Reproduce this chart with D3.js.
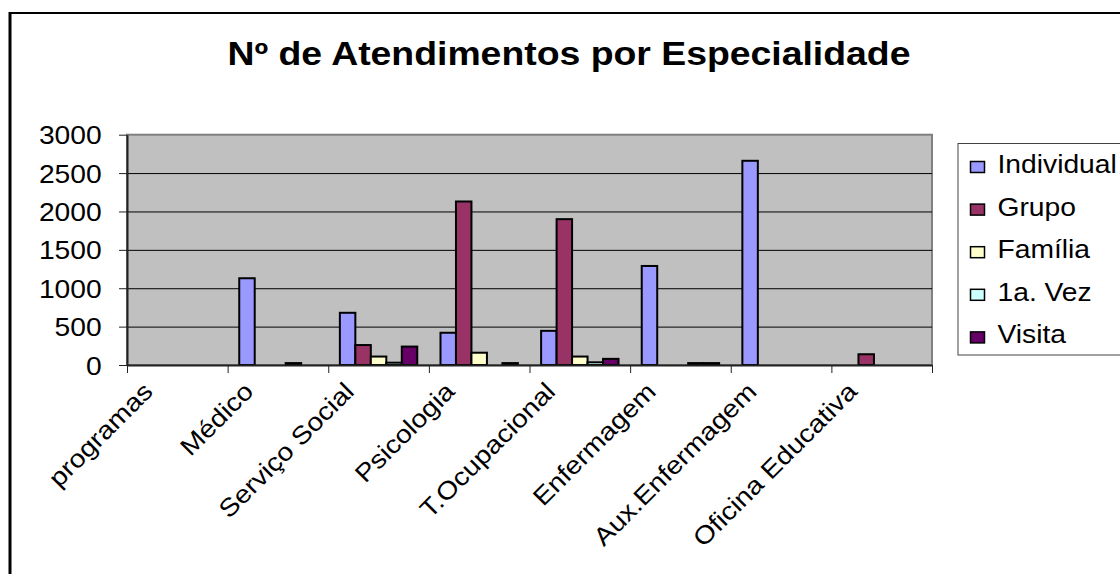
<!DOCTYPE html>
<html>
<head>
<meta charset="utf-8">
<script src="https://cdn.jsdelivr.net/npm/d3@7"></script>
<style>
  body { margin: 0; background: #fff; }
  svg { display: block; font-family: "Liberation Sans", Arial, sans-serif; }
</style>
</head>
<body>
<svg id="chart" width="1120" height="574"></svg>
<script>
// data
const categories = ["programas", "Médico", "Serviço Social", "Psicologia",
    "T.Ocupacional", "Enfermagem", "Aux.Enfermagem", "Oficina Educativa"];
const seriesNames = ["Individual", "Grupo", "Família", "1a. Vez", "Visita"];
const individual = [0, 1130, 680, 420, 445, 1290, 2660, 0];
const grupo      = [0, 0, 260, 2130, 1900, 0, 0, 140];
const familia    = [0, 0, 110, 160, 110, 0, 0, 0];
const primeiraVez = [0, 25, 30, 0, 35, 25, 0, 0];
const visita     = [0, 0, 240, 25, 80, 25, 0, 0];
const yTicks = [0, 500, 1000, 1500, 2000, 2500, 3000];
const colors = ["#9999ff", "#993366", "#ffffcc", "#ccffff", "#660066"];

const seriesValues = [individual, grupo, familia, primeiraVez, visita];
const stretch = 1.13; // text in the picture is a bit wider than tall

const svg = d3.select("#chart");

// outer frame (only left and top edges are visible)
svg.append("line").attr("x1", 10).attr("x2", 10).attr("y1", 12).attr("y2", 574)
    .attr("stroke", "#000").attr("stroke-width", 3);
svg.append("line").attr("x1", 9).attr("x2", 1120).attr("y1", 13).attr("y2", 13)
    .attr("stroke", "#000").attr("stroke-width", 2);

// title
svg.append("text")
    .attr("transform", "translate(569,65) scale(1.15,1)")
    .attr("text-anchor", "middle")
    .attr("font-size", 32.5)
    .attr("font-weight", "bold")
    .text("Nº de Atendimentos por Especialidade");

const plot = { left: 127, right: 932, top: 134.7, bottom: 365 };

const x0 = d3.scaleBand().domain(categories).range([plot.left, plot.right]).padding(0);
const x1 = d3.scaleBand().domain(seriesNames).range([0, x0.bandwidth()])
    .paddingInner(0).paddingOuter(0.75);
const y = d3.scaleLinear().domain([0, 3000]).range([plot.bottom, plot.top]);
const xIdx = d3.scaleLinear().domain([0, categories.length]).range([plot.left, plot.right]);

// plot background
svg.append("rect")
    .attr("x", plot.left).attr("y", plot.top)
    .attr("width", plot.right - plot.left).attr("height", plot.bottom - plot.top)
    .attr("fill", "#c0c0c0")
    .attr("stroke", "#808080").attr("stroke-width", 2);

// gridlines
svg.append("g")
    .attr("transform", `translate(${plot.left},0)`)
    .call(d3.axisLeft(y).tickValues(yTicks.slice(1, -1)).tickSize(-(plot.right - plot.left)).tickFormat(""))
    .call(g => g.select(".domain").remove())
    .selectAll("line").attr("stroke", "#000").attr("stroke-width", 1);

// bars
const table = [];
categories.forEach((c, i) => {
    seriesNames.forEach((s, j) => {
        if (seriesValues[j][i] > 0) table.push({ cat: c, series: s, value: seriesValues[j][i], color: colors[j] });
    });
});

svg.append("g").selectAll("rect")
    .data(table)
    .join("rect")
    .attr("x", d => x0(d.cat) + x1(d.series))
    .attr("y", d => y(d.value))
    .attr("width", x1.bandwidth())
    .attr("height", d => y(0) - y(d.value))
    .attr("fill", d => d.color)
    .attr("stroke", "#000")
    .attr("stroke-width", 2);

// y axis
const yAxis = svg.append("g")
    .attr("transform", `translate(${plot.left},0)`)
    .call(d3.axisLeft(y).tickValues(yTicks).tickSize(8).tickSizeOuter(0).tickFormat(d3.format("d")));
yAxis.select(".domain").attr("stroke", "#222").attr("stroke-width", 2);
yAxis.selectAll(".tick line").attr("stroke", "#222");
yAxis.selectAll(".tick text")
    .attr("font-size", 25)
    .attr("fill", "#000")
    .attr("font-family", "Liberation Sans, Arial, sans-serif")
    .attr("x", -25.3 / stretch)
    .attr("dy", 9)
    .attr("transform", `scale(${stretch},1)`);

// x axis: boundary ticks
const xTickAxis = svg.append("g")
    .attr("transform", `translate(0,${plot.bottom})`)
    .call(d3.axisBottom(xIdx).tickValues(d3.range(categories.length + 1)).tickSize(8).tickFormat("").tickSizeOuter(0));
xTickAxis.select(".domain").attr("stroke", "#222").attr("stroke-width", 2);
xTickAxis.selectAll(".tick line").attr("stroke", "#222");

// x axis: category labels
const xLab = svg.append("g")
    .attr("transform", `translate(0,${plot.bottom})`)
    .call(d3.axisBottom(x0).tickSize(0).tickSizeOuter(0));
xLab.select(".domain").remove();
xLab.selectAll(".tick text")
    .attr("font-size", 25)
    .attr("fill", "#000")
    .attr("font-family", "Liberation Sans, Arial, sans-serif")
    .attr("text-anchor", "end")
    .attr("x", 0).attr("y", 0).attr("dy", 0)
    .attr("transform", `translate(-23,28) rotate(-45) scale(${stretch},1)`);

// legend
const legend = svg.append("g");
legend.append("rect")
    .attr("x", 958).attr("y", 143.5)
    .attr("width", 200).attr("height", 211.5)
    .attr("fill", "#fff").attr("stroke", "#444").attr("stroke-width", 1);

const rows = legend.selectAll("g.row")
    .data(seriesNames)
    .join("g")
    .attr("class", "row")
    .attr("transform", (d, i) => `translate(0,${173 + i * 42.6})`);
rows.append("rect")
    .attr("x", 970.5).attr("y", -11.5)
    .attr("width", 14).attr("height", 11)
    .attr("fill", (d, i) => colors[i])
    .attr("stroke", "#000").attr("stroke-width", 1.5);
rows.append("text")
    .attr("transform", `translate(997.5,0) scale(${stretch},1)`)
    .attr("font-size", 25)
    .text(d => d);
</script>
</body>
</html>
